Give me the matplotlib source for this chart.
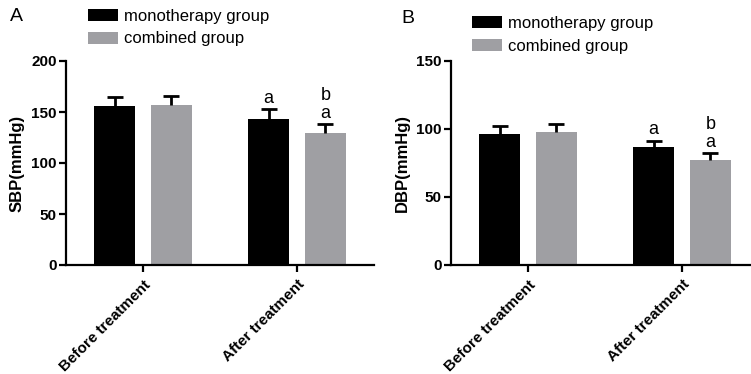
import matplotlib
matplotlib.use('Agg')
import matplotlib.pyplot as plt
import numpy as np

plt.rcParams['font.family'] = ['Liberation Sans', 'DejaVu Sans']

# data
categories = ['Before treatment', 'After treatment']
groups = ['monotherapy group', 'combined group']
sbp_mono = [156, 143]
sbp_mono_sd = [9, 10]
sbp_comb = [157, 129]
sbp_comb_sd = [9, 9]
dbp_mono = [96, 86.5]
dbp_mono_sd = [6, 5]
dbp_comb = [97.5, 77]
dbp_comb_sd = [6.5, 5]
# significance letters for after treatment
marks_mono = ['', 'a']
marks_comb = ['', 'ab']

black = '#000000'
gray = '#9f9fa3'

fig = plt.figure(figsize=(7.51, 3.74), dpi=100)
axA = fig.add_axes([66 / 751, 109 / 374, 308 / 751, 204 / 374])
axB = fig.add_axes([451 / 751, 109 / 374, 308 / 751, 204 / 374])


def upper_err(ax, xs, vals, sds):
    # only the upper half of the error bar, no cap at the bar top
    _, caps, _ = ax.errorbar(xs, vals, yerr=[np.zeros(len(vals)), sds], fmt='none',
                             ecolor='black', elinewidth=2, capthick=2, capsize=6, zorder=3)
    caps[0].set_visible(False)


def draw(ax, mono, mono_sd, comb, comb_sd, ymax, step, ylabel, leg_anchor):
    x = np.arange(len(categories))
    off = 0.185
    w = 0.266
    ax.bar(x - off, mono, w, color=black, label=groups[0], zorder=2)
    ax.bar(x + off, comb, w, color=gray, label=groups[1], zorder=2)
    upper_err(ax, x - off, mono, mono_sd)
    upper_err(ax, x + off, comb, comb_sd)

    for i in range(len(categories)):
        top = mono[i] + mono_sd[i]
        for k, ch in enumerate(marks_mono[i]):
            ax.annotate(ch, (x[i] - off, top), xytext=(0, 4.5 + 13 * k), textcoords='offset points',
                        ha='center', va='baseline', fontsize=13)
        top = comb[i] + comb_sd[i]
        for k, ch in enumerate(marks_comb[i]):
            ax.annotate(ch, (x[i] + off, top), xytext=(0, 4.5 + 13 * k), textcoords='offset points',
                        ha='center', va='baseline', fontsize=13)

    ax.set_xlim(-0.5, 1.5)
    ax.set_ylim(0, ymax)
    ax.set_yticks(np.arange(0, ymax + 1, step))
    ax.set_xticks(x)
    ax.set_xticklabels(categories, rotation=45, ha='right', rotation_mode='anchor',
                       fontsize=11, fontweight='bold')
    for t in ax.get_yticklabels():
        t.set_fontweight('bold')
        t.set_fontsize(11)
    ax.set_ylabel(ylabel, fontsize=12, fontweight='bold', labelpad=5)
    for s in ['top', 'right']:
        ax.spines[s].set_visible(False)
    for s in ['left', 'bottom']:
        ax.spines[s].set_linewidth(1.6)
    ax.tick_params(width=1.6, length=5, pad=1.5)
    ax.tick_params(axis='x', pad=4)

    ax.legend(loc='upper left', bbox_to_anchor=leg_anchor, frameon=False, fontsize=12,
              handlelength=1.8, handleheight=0.75, handletextpad=0.35, labelspacing=0.45,
              borderaxespad=0, borderpad=0)


draw(axA, sbp_mono, sbp_mono_sd, sbp_comb, sbp_comb_sd, 200, 50, 'SBP(mmHg)', (0.071, 1.255))
draw(axB, dbp_mono, dbp_mono_sd, dbp_comb, dbp_comb_sd, 150, 50, 'DBP(mmHg)', (0.068, 1.22))
fig.text(10 / 751, 1 - 8 / 374, 'A', fontsize=14, va='top', ha='left')
fig.text(401 / 751, 1 - 10 / 374, 'B', fontsize=14, va='top', ha='left')

fig.savefig('out.png', dpi=100)
